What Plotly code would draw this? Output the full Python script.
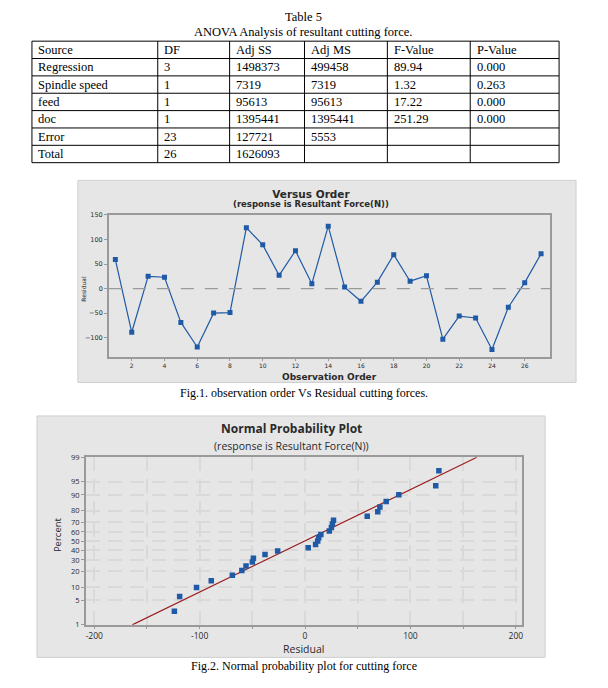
import plotly.graph_objects as go
from statistics import NormalDist, mean, stdev

W, H = 608, 688

# ---------------- data ----------------
table_title = "Table 5"
table_subtitle = "ANOVA Analysis of resultant cutting force."
table_header = ["Source", "DF", "Adj SS", "Adj MS", "F-Value", "P-Value"]
source = ["Regression", "Spindle speed", "feed", "doc", "Error", "Total"]
df_vals = ["3", "1", "1", "1", "23", "26"]
adj_ss = ["1498373", "7319", "95613", "1395441", "127721", "1626093"]
adj_ms = ["499458", "7319", "95613", "1395441", "5553", ""]
f_value = ["89.94", "1.32", "17.22", "251.29", "", ""]
p_value = ["0.000", "0.263", "0.000", "0.000", "", ""]

observation = list(range(1, 28))
residual = [59, -89, 25, 23, -69, -119, -50, -49, 124, 89, 27, 77, 10, 127,
            3, -26, 13, 69, 15, 26, -103, -56, -60, -124, -38, 12, 71]

order_ticks = [2, 4, 6, 8, 10, 12, 14, 16, 18, 20, 22, 24, 26]
residual_ticks = [-100, -50, 0, 50, 100, 150]
percent_ticks = [1, 5, 10, 20, 30, 40, 50, 60, 70, 80, 90, 95, 99]
npp_x_ticks = [-200, -150, -100, -50, 0, 50, 100, 150, 200]
npp_x_labels = ["-200", "", "-100", "", "0", "", "100", "", "200"]

caption1 = "Fig.1. observation order Vs Residual cutting forces."
caption2 = "Fig.2. Normal probability plot for cutting force"

# ---------------- derived (normal probability positions) ----------------
nd = NormalDist()
n = len(residual)
sorted_res = sorted(residual)
pct = [(i - 0.3) / (n + 0.4) for i in range(1, n + 1)]
z_pts = [nd.inv_cdf(p) for p in pct]
mu, sigma = mean(residual), stdev(residual)
z_line = [nd.inv_cdf(0.01), nd.inv_cdf(0.99)]
x_line = [mu + sigma * z for z in z_line]
z_ticks = [nd.inv_cdf(p / 100) for p in percent_ticks]


def px(x):
    return x / W


def py(y):
    return 1 - y / H


BLUE = "#1f5aa6"
RED = "#9b1b1b"
AX = "#9a9a9a"
TXT = "#2a2a2a"
SERIF = "Liberation Serif, Times New Roman, serif"
SANS = "DejaVu Sans, sans-serif"
SANS2 = "Open Sans, Noto Sans, sans-serif"

fig = go.Figure()

# ---------------- chart 1: versus order ----------------
fig.add_trace(go.Scatter(
    x=observation, y=residual, mode="lines+markers",
    line=dict(color=BLUE, width=1.2),
    marker=dict(symbol="square", size=5, color=BLUE),
    xaxis="x", yaxis="y", showlegend=False,
))

# ---------------- chart 2: normal probability ----------------
fig.add_trace(go.Scatter(
    x=x_line, y=z_line, mode="lines",
    line=dict(color=RED, width=1.2),
    xaxis="x2", yaxis="y2", showlegend=False,
))
fig.add_trace(go.Scatter(
    x=sorted_res, y=z_pts, mode="markers",
    marker=dict(symbol="square", size=5.5, color=BLUE),
    xaxis="x2", yaxis="y2", showlegend=False,
))

shapes = [
    # panel backgrounds
    dict(type="rect", xref="paper", yref="paper", x0=px(78), x1=px(577),
         y0=py(383), y1=py(178), fillcolor="#e6e6e6",
         line=dict(color="#cfcfcf", width=1), layer="below"),
    dict(type="rect", xref="paper", yref="paper", x0=px(37), x1=px(546),
         y0=py(662), y1=py(417), fillcolor="#e6e6e6",
         line=dict(color="#cfcfcf", width=1), layer="below"),
    # zero reference line
    dict(type="line", xref="x domain", yref="y", x0=0, x1=1, y0=0, y1=0,
         line=dict(color="#9a9a9a", width=1.3, dash="13px,11px")),
]

annotations = [
    dict(text=table_title, x=px(304), y=py(12.5), font=dict(family=SERIF, size=12.5, color="black")),
    dict(text=table_subtitle, x=px(304), y=py(27), font=dict(family=SERIF, size=12.5, color="black")),
    dict(text="<b><span style='font-size:10.5px'>Versus Order</span></b><br>"
              "<b><span style='font-size:8.5px'>(response is Resultant Force(N))</span></b>",
         x=px(312), y=py(196.8), font=dict(family=SANS, size=7.3, color=TXT)),
    dict(text="<b>Observation Order</b>", x=px(330), y=py(377), font=dict(family=SANS, size=9, color=TXT)),
    dict(text="Residual", x=px(84), y=py(288), textangle=-90, font=dict(family=SANS, size=6, color=TXT)),
    dict(text="<b>Normal Probability Plot</b>", x=px(292), y=py(439.5), yanchor="bottom",
         borderpad=0, font=dict(family=SANS2, size=12, color=TXT)),
    dict(text="(response is Resultant Force(N))", x=px(292), y=py(439.5), yanchor="top",
         borderpad=0, font=dict(family=SANS2, size=10.5, color=TXT)),
    dict(text="Residual", x=px(304), y=py(653), font=dict(family=SANS2, size=10.5, color=TXT)),
    dict(text="Percent", x=px(57), y=py(537), textangle=-90, font=dict(family=SANS2, size=9.5, color=TXT)),
    dict(text=caption1, x=px(305), y=py(393.5), font=dict(family=SERIF, size=12, color="black")),
    dict(text=caption2, x=px(305), y=py(671), font=dict(family=SERIF, size=12, color="black")),
]

# ---------------- table (grid + cell texts) ----------------
col_edges = [32, 158, 230, 305, 388, 471, 560]
tbl_top, tbl_bot = 36.7, 160.0
columns = [source, df_vals, adj_ss, adj_ms, f_value, p_value]
n_rows = len(source) + 1
row_h = (tbl_bot - tbl_top) / n_rows
for ce in col_edges:
    shapes.append(dict(type="line", xref="paper", yref="paper", x0=px(ce), x1=px(ce),
                       y0=py(tbl_top), y1=py(tbl_bot), line=dict(color="black", width=1)))
for r in range(n_rows + 1):
    yy = tbl_top + r * row_h
    shapes.append(dict(type="line", xref="paper", yref="paper", x0=px(col_edges[0]), x1=px(col_edges[-1]),
                       y0=py(yy), y1=py(yy), line=dict(color="black", width=1)))
for c, head in enumerate(table_header):
    rows = [head] + columns[c]
    for r, val in enumerate(rows):
        if val == "":
            continue
        annotations.append(dict(text=val, x=px(col_edges[c] + 4.5),
                                y=py(tbl_top + (r + 0.5) * row_h),
                                xanchor="left",
                                font=dict(family=SERIF, size=12.5, color="black")))

for a in annotations:
    a.setdefault("xanchor", "center")
    a.setdefault("yanchor", "middle")
    a.update(xref="paper", yref="paper", showarrow=False)

axis_common = dict(showline=True, mirror=True, linecolor=AX, linewidth=1.5,
                   ticks="outside", tickcolor=AX, zeroline=False)

fig.update_layout(
    width=W, height=H, margin=dict(l=0, r=0, t=0, b=0),
    paper_bgcolor="white", plot_bgcolor="white",
    shapes=shapes, annotations=annotations,
    xaxis=dict(domain=[px(109), px(551)], anchor="y", range=[0.6, 27.55],
               tickvals=order_ticks, showgrid=False, ticklen=2,
               tickfont=dict(family=SANS, size=6, color=TXT), **axis_common),
    yaxis=dict(domain=[py(357), py(213)], anchor="x", range=[-139, 150],
               tickvals=residual_ticks, showgrid=False, ticklen=3,
               tickfont=dict(family=SANS, size=6.5, color=TXT), **axis_common),
    xaxis2=dict(domain=[px(86), px(523)], anchor="y2", range=[-208, 206],
                tickvals=npp_x_ticks, ticktext=npp_x_labels, ticklen=2,
                showgrid=True, gridcolor="#d9d9d9", gridwidth=1.5, griddash="14px,8px",
                tickfont=dict(family=SANS2, size=8.5, color=TXT), **axis_common),
    yaxis2=dict(domain=[py(629), py(459)], anchor="x2", range=[z_line[0], z_line[1]],
                tickvals=z_ticks, ticktext=[str(p) for p in percent_ticks], ticklen=3,
                showgrid=True, gridcolor="#d9d9d9", gridwidth=1.5, griddash="14px,8px",
                tickfont=dict(family=SANS2, size=7.5, color=TXT), **axis_common),
)

fig.write_html("out.html", config={"displayModeBar": False},
               post_script="document.body.style.margin='0px';document.body.style.overflow='hidden';")
